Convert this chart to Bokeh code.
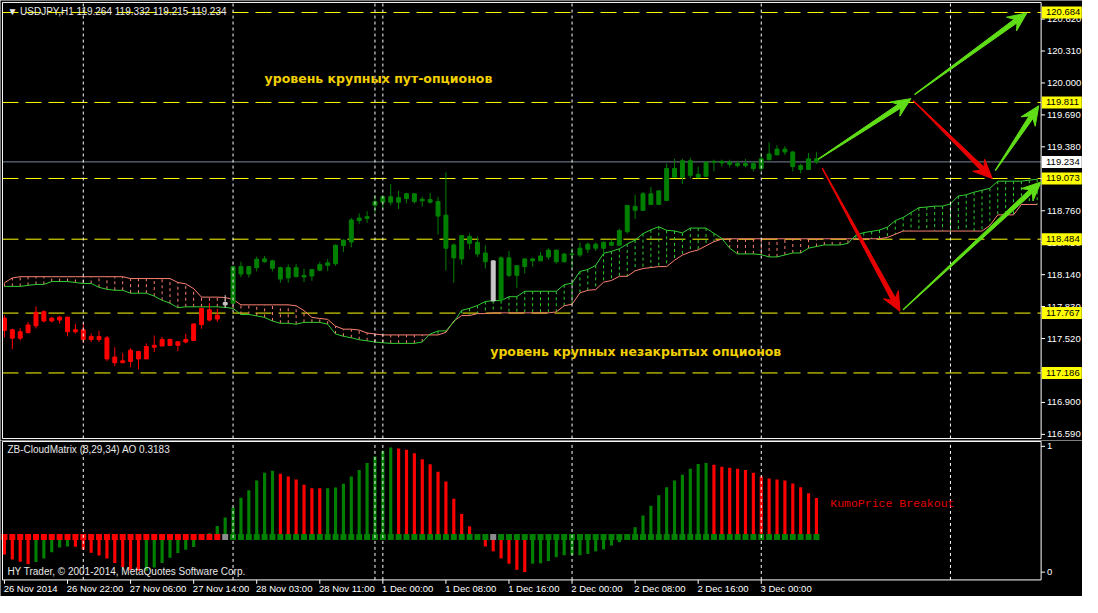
import math
from bokeh.plotting import figure
from bokeh.layouts import column
from bokeh.models import Range1d, ColumnDataSource
from bokeh.core.properties import value
from bokeh.embed import file_html
from bokeh.resources import INLINE

# ---------------- data ----------------
bar_open = [117.718, 117.605, 117.524, 117.577, 117.643, 117.781, 117.690, 117.728, 117.728, 117.586,
            117.605, 117.511, 117.539, 117.527, 117.341, 117.285, 117.297, 117.395, 117.322, 117.436,
            117.448, 117.511, 117.454, 117.486, 117.501, 117.655, 117.800, 117.709, 117.847, 117.863,
            118.218, 118.146, 118.208, 118.293, 118.274, 118.208, 118.108, 118.208, 118.117, 118.127,
            118.183, 118.230, 118.246, 118.422, 118.457, 118.664, 118.686, 118.812, 118.843, 118.896,
            118.843, 118.878, 118.925, 118.856, 118.868, 118.849, 118.717, 118.428, 118.293, 118.510,
            118.453, 118.350, 118.274, 117.894, 118.303, 118.133, 118.218, 118.293, 118.274, 118.312,
            118.378, 118.265, 118.340, 118.331, 118.387, 118.435, 118.397, 118.453, 118.425, 118.557,
            118.802, 118.764, 118.925, 118.821, 118.859, 119.170, 119.085, 119.245, 119.113, 119.095,
            119.230, 119.239, 119.230, 119.217, 119.198, 119.217, 119.170, 119.255, 119.302, 119.358,
            119.330, 119.198, 119.161, 119.264]
bar_high = [117.747, 117.615, 117.621, 117.681, 117.831, 117.794, 117.728, 117.740, 117.728, 117.662,
            117.671, 117.571, 117.596, 117.545, 117.436, 117.379, 117.426, 117.395, 117.473, 117.549,
            117.536, 117.520, 117.489, 117.567, 117.662, 117.813, 117.866, 117.809, 117.941, 118.218,
            118.265, 118.218, 118.315, 118.321, 118.284, 118.218, 118.240, 118.243, 118.199, 118.190,
            118.265, 118.293, 118.435, 118.482, 118.689, 118.733, 118.755, 118.915, 118.896, 119.019,
            118.953, 118.934, 118.925, 118.896, 118.934, 118.896, 119.132, 118.444, 118.519, 118.538,
            118.510, 118.425, 118.274, 118.318, 118.369, 118.227, 118.293, 118.303, 118.359, 118.397,
            118.378, 118.350, 118.397, 118.453, 118.453, 118.453, 118.463, 118.482, 118.585, 118.812,
            118.915, 118.943, 118.991, 118.953, 119.217, 119.264, 119.264, 119.274, 119.189, 119.242,
            119.255, 119.255, 119.255, 119.245, 119.261, 119.236, 119.321, 119.424, 119.396, 119.387,
            119.340, 119.217, 119.321, 119.332]
bar_low = [117.533, 117.417, 117.501, 117.571, 117.618, 117.677, 117.677, 117.665, 117.542, 117.567,
           117.479, 117.486, 117.486, 117.300, 117.253, 117.285, 117.241, 117.222, 117.322, 117.388,
           117.448, 117.448, 117.398, 117.473, 117.501, 117.615, 117.684, 117.681, 117.816, 117.863,
           118.114, 118.114, 118.171, 118.255, 118.171, 118.061, 118.061, 118.114, 118.067, 118.080,
           118.171, 118.174, 118.227, 118.359, 118.406, 118.632, 118.642, 118.739, 118.783, 118.812,
           118.777, 118.830, 118.830, 118.802, 118.830, 118.529, 118.180, 118.061, 118.237, 118.387,
           118.312, 118.199, 117.885, 117.879, 118.114, 118.010, 118.152, 118.218, 118.274, 118.284,
           118.246, 118.255, 118.199, 118.312, 118.350, 118.369, 118.340, 118.425, 118.425, 118.538,
           118.680, 118.764, 118.821, 118.821, 118.859, 119.085, 119.019, 119.073, 119.073, 119.085,
           119.142, 119.189, 119.180, 119.180, 119.180, 119.142, 119.142, 119.255, 119.302, 119.302,
           119.142, 119.123, 119.161, 119.215]
bar_close = [117.599, 117.524, 117.586, 117.652, 117.775, 117.690, 117.718, 117.699, 117.586, 117.605,
             117.511, 117.539, 117.511, 117.322, 117.285, 117.304, 117.407, 117.322, 117.442, 117.454,
             117.511, 117.454, 117.489, 117.511, 117.662, 117.813, 117.699, 117.747, 117.869, 118.218,
             118.146, 118.218, 118.290, 118.265, 118.202, 118.098, 118.208, 118.120, 118.133, 118.190,
             118.237, 118.255, 118.425, 118.475, 118.670, 118.689, 118.702, 118.849, 118.896, 118.843,
             118.887, 118.925, 118.849, 118.871, 118.843, 118.708, 118.397, 118.303, 118.519, 118.444,
             118.340, 118.265, 117.885, 118.303, 118.133, 118.227, 118.293, 118.274, 118.321, 118.378,
             118.265, 118.340, 118.334, 118.397, 118.435, 118.397, 118.453, 118.425, 118.567, 118.812,
             118.764, 118.925, 118.821, 118.953, 119.170, 119.085, 119.245, 119.104, 119.085, 119.230,
             119.239, 119.223, 119.211, 119.198, 119.217, 119.170, 119.264, 119.311, 119.358, 119.330,
             119.189, 119.161, 119.264, 119.234]
# trend state per bar: R = below cloud, G = above cloud, X = breakout bar
bar_state = ("RRRRRRRRRRRRRRRRRRRRRRRRRRRR" + "X" +
             "GGGGGGGGGGGGGGGGGGGGGGGGGGGGGGGGG" + "X" +
             "GGGGGGGGGGGGGGGGGGGGGGGGGGGGGGGGGGGGGGGGG")

span_a = [118.026, 118.026, 118.026, 118.036, 118.045, 118.045, 118.073, 118.073, 118.073, 118.064,
          118.054, 118.054, 118.017, 117.998, 117.988, 117.988, 117.960, 117.960, 117.960, 117.932,
          117.891, 117.863, 117.819, 117.828, 117.828, 117.828, 117.828, 117.828, 117.822, 117.813,
          117.753, 117.753, 117.740, 117.725, 117.690, 117.668, 117.668, 117.659, 117.677, 117.677,
          117.677, 117.659, 117.564, 117.542, 117.527, 117.508, 117.498, 117.486, 117.479, 117.473,
          117.473, 117.473, 117.473, 117.486, 117.564, 117.593, 117.595, 117.680, 117.794, 117.813,
          117.841, 117.879, 117.888, 117.888, 117.926, 117.926, 117.979, 117.979, 117.979, 117.979,
          117.979, 118.042, 118.058, 118.171, 118.190, 118.230, 118.347, 118.366, 118.391, 118.438,
          118.475, 118.538, 118.575, 118.605, 118.570, 118.564, 118.545, 118.592, 118.592, 118.592,
          118.540, 118.491, 118.397, 118.341, 118.341, 118.341, 118.334, 118.312, 118.312, 118.331,
          118.350, 118.350, 118.397, 118.413, 118.428, 118.428, 118.428, 118.444, 118.523, 118.548,
          118.560, 118.573, 118.601, 118.664, 118.695, 118.743, 118.790, 118.796, 118.805, 118.805,
          118.827, 118.903, 118.915, 118.940, 118.959, 118.978, 119.047, 119.047, 119.047, 119.047,
          119.057, 119.066]
span_b = [118.061, 118.108, 118.120, 118.120, 118.120, 118.120, 118.120, 118.120, 118.120, 118.120,
          118.120, 118.120, 118.120, 118.120, 118.120, 118.120, 118.102, 118.102, 118.102, 118.102,
          118.102, 118.102, 118.064, 118.051, 118.004, 117.922, 117.922, 117.922, 117.918, 117.900,
          117.847, 117.847, 117.847, 117.847, 117.847, 117.847, 117.847, 117.838, 117.791, 117.725,
          117.715, 117.706, 117.640, 117.611, 117.611, 117.602, 117.574, 117.564, 117.555, 117.555,
          117.555, 117.555, 117.555, 117.555, 117.555, 117.555, 117.580, 117.690, 117.743, 117.743,
          117.762, 117.762, 117.769, 117.769, 117.769, 117.769, 117.769, 117.769, 117.769, 117.769,
          117.778, 117.838, 117.853, 117.963, 117.988, 117.995, 118.067, 118.083, 118.124, 118.124,
          118.177, 118.199, 118.209, 118.218, 118.218, 118.280, 118.330, 118.360, 118.380, 118.420,
          118.460, 118.485, 118.488, 118.488, 118.488, 118.488, 118.488, 118.488, 118.488, 118.488,
          118.488, 118.488, 118.488, 118.488, 118.488, 118.488, 118.488, 118.488, 118.488, 118.488,
          118.488, 118.488, 118.501, 118.532, 118.563, 118.563, 118.563, 118.563, 118.563, 118.563,
          118.563, 118.563, 118.563, 118.563, 118.563, 118.617, 118.720, 118.720, 118.720, 118.821,
          118.821, 118.821]

ao_base = 0.279
ao_values = [0.140, 0.101, 0.083, 0.062, 0.080, 0.109, 0.158, 0.196, 0.204, 0.202,
             0.178, 0.155, 0.132, 0.109, 0.072, 0.041, 0.016, 0.010, 0.010, 0.036,
             0.072, 0.114, 0.152, 0.178, 0.199, 0.256, 0.310, 0.367, 0.434, 0.514,
             0.592, 0.651, 0.729, 0.791, 0.806, 0.783, 0.760, 0.736, 0.695, 0.667,
             0.667, 0.667, 0.672, 0.703, 0.760, 0.811, 0.868, 0.920, 0.966, 0.990,
             0.982, 0.972, 0.946, 0.897, 0.858, 0.798, 0.721, 0.584, 0.463, 0.364,
             0.295, 0.204, 0.165, 0.109, 0.067, 0.018, 0.000, 0.067, 0.070, 0.088,
             0.119, 0.134, 0.134, 0.134, 0.145, 0.165, 0.181, 0.212, 0.238, 0.262,
             0.357, 0.450, 0.527, 0.612, 0.674, 0.729, 0.775, 0.822, 0.860, 0.868,
             0.853, 0.837, 0.829, 0.822, 0.811, 0.791, 0.760, 0.744, 0.736, 0.729,
             0.705, 0.674, 0.628, 0.589]
ao_state = ("RRRR" + "GGGGG" + "RRRRRRRRR" + "GGGGGGGGGGGGGGGGG" + "RRRRRR" + "GGGGGGGGG" +
            "RRRRRRRRRRRRRRRRR" + "GGGGGGGGGGGGGGGGGGGGGGG" + "RRRRRRRRRRRRRR")

level_prices = [120.684, 119.811, 119.073, 118.484, 117.767, 117.186]
last_price = 119.234
price_ticks = [116.590, 116.900, 117.210, 117.520, 117.830, 118.140, 118.450,
               118.760, 119.070, 119.380, 119.690, 120.000, 120.310, 120.620]
osc_ticks = [0, 1]
time_tick_bars = [0, 8, 16, 24, 32, 40, 48, 56, 64, 72, 80, 88, 96]
time_tick_labels = ["26 Nov 2014", "26 Nov 22:00", "27 Nov 06:00", "27 Nov 14:00", "28 Nov 03:00",
                    "28 Nov 11:00", "1 Dec 00:00", "1 Dec 08:00", "1 Dec 16:00", "2 Dec 00:00",
                    "2 Dec 08:00", "2 Dec 16:00", "3 Dec 00:00"]
separator_bars = [10, 29, 47, 48, 72, 96, 120]

arrow_x0 = [103.25, 115.46, 115.30, 125.70, 103.75, 114.00]
arrow_y0 = [119.261, 119.889, 119.827, 119.151, 119.172, 117.800]
arrow_x1 = [115.00, 129.70, 125.30, 131.20, 113.60, 131.50]
arrow_y1 = [119.848, 120.680, 119.073, 119.779, 117.784, 119.040]
arrow_kind = ["up", "up", "down", "up", "down", "up"]

# ---------------- geometry (MT4 window: 8 px per bar, price scale) ----------------
W_PX, H1_PX, H2_PX = 1082, 440, 156

def col2x(c):          # window column -> bar coordinate
    return (c - 4) / 8.0

def row2p(r):          # window row -> price (main panel)
    return 116.59 + (446.7 - r) / 106.1

def row2o(r):          # window row -> oscillator value (lower panel)
    return (588.0 - r) / 129.0

XMIN, XMAX = col2x(0), col2x(1098)
YMAX, YMIN = row2p(0), row2p(453)
OMAX, OMIN = row2o(453), row2o(613)
X_EDGE = col2x(1056)           # right border of the chart area
X_LEFT = col2x(2)
sx = W_PX / (XMAX - XMIN)
sy = H1_PX / (YMAX - YMIN)

RED, GREEN, GRAY_C, GRAY_S = "#FF0000", "#008000", "#C8C8C8", "#8C8C8C"
A_COL, B_COL = "#32CD32", "#FA8072"
ARROW_COL = {"up": "#5FDD17", "down": "#E80000"}
FONT = value("Liberation Sans")
FS = "9.5px"
FS_T = "10px"

xr = Range1d(XMIN, XMAX)

def make_fig(h, yr):
    f = figure(width=W_PX, height=h, x_range=xr, y_range=yr,
               output_backend="svg", toolbar_location=None,
               x_axis_location=None, y_axis_location=None,
               background_fill_color="black", border_fill_color="black",
               outline_line_color=None, min_border=0)
    f.grid.visible = False
    return f

def frame_and_axis(f, top, bot, ticks, labels):
    # dotted period separators
    f.segment(x0=separator_bars, y0=[bot] * len(separator_bars),
              x1=separator_bars, y1=[top] * len(separator_bars),
              line_color="white", line_dash="3 3", line_width=1)
    # border
    f.line([X_LEFT, X_EDGE, X_EDGE, X_LEFT, X_LEFT], [top, top, bot, bot, top],
           line_color="white", line_width=1)
    # right scale
    f.segment(x0=[X_EDGE] * len(ticks), y0=ticks, x1=[col2x(1060)] * len(ticks), y1=ticks,
              line_color="white", line_width=1)
    f.text(x=[col2x(1062)] * len(ticks), y=ticks, text=labels, text_color="white",
           text_font=FONT, text_font_size=FS, text_align="left", text_baseline="middle")

# ---------------- main panel ----------------
p = make_fig(H1_PX, Range1d(YMIN, YMAX))
P_TOP, P_BOT = row2p(2), row2p(451)

nl = len(level_prices)
p.segment(x0=[X_LEFT] * nl, y0=level_prices, x1=[X_EDGE] * nl, y1=level_prices,
          line_color="#FFFF00", line_dash="16 7", line_width=1)
p.segment(x0=[X_LEFT], y0=[last_price], x1=[X_EDGE], y1=[last_price],
          line_color="#778899", line_width=1)

# cloud
cx = list(range(len(span_a)))
hatch = ColumnDataSource(dict(x=cx, a=span_a, b=span_b,
                              c=[B_COL if b > a else A_COL for a, b in zip(span_a, span_b)]))
p.segment(x0="x", y0="a", x1="x", y1="b", source=hatch, line_color="c",
          line_dash="3 3", line_width=1)
p.line(cx, span_b, line_color=B_COL, line_width=1)
p.line(cx, span_a, line_color=A_COL, line_width=1)

# candles
n = len(bar_open)
cmap_c = {"R": RED, "G": GREEN, "X": GRAY_C}
cs = ColumnDataSource(dict(
    x=list(range(n)), o=bar_open, h=bar_high, l=bar_low, c=bar_close,
    top=[max(o, c) for o, c in zip(bar_open, bar_close)],
    bot=[min(o, c) for o, c in zip(bar_open, bar_close)],
    col=[cmap_c[s] for s in bar_state]))
p.segment(x0="x", y0="l", x1="x", y1="h", source=cs, line_color="col", line_width=1)
p.vbar(x="x", top="top", bottom="bot", width=0.5, source=cs, fill_color="col",
       line_color="col", line_width=1)

frame_and_axis(p, P_TOP, P_BOT, price_ticks, ["%.3f" % t for t in price_ticks])

# arrows (tapered shaft, notched head)
def arrow_poly(x0, y0, x1, y1):
    X0, Y0 = x0 * sx, (y0 - YMIN) * sy
    X1, Y1 = x1 * sx, (y1 - YMIN) * sy
    dx, dy = X1 - X0, Y1 - Y0
    L = math.hypot(dx, dy)
    ux, uy = dx / L, dy / L
    nx, ny = -uy, ux
    head, half_head, notch, neck_w, tail_w = 19.0, 8.5, 5.0, 2.3, 0.3
    bx, by = X1 - ux * head, Y1 - uy * head
    kx, ky = X1 - ux * (head - notch), Y1 - uy * (head - notch)
    pts = [(X0 + nx * tail_w, Y0 + ny * tail_w),
           (kx + nx * neck_w, ky + ny * neck_w),
           (bx + nx * half_head, by + ny * half_head),
           (X1, Y1),
           (bx - nx * half_head, by - ny * half_head),
           (kx - nx * neck_w, ky - ny * neck_w),
           (X0 - nx * tail_w, Y0 - ny * tail_w)]
    return [q[0] / sx for q in pts], [q[1] / sy + YMIN for q in pts]

axs, ays, acs = [], [], []
for x0, y0, x1, y1, k in zip(arrow_x0, arrow_y0, arrow_x1, arrow_y1, arrow_kind):
    xs, ys = arrow_poly(x0, y0, x1, y1)
    axs.append(xs); ays.append(ys); acs.append(ARROW_COL[k])
p.patches(axs, ays, fill_color=acs, line_color=acs, line_width=1)

# price tags on the scale
p.rect(x=[col2x(1077)] * nl, y=level_prices, width=40, height=12,
       width_units="screen", height_units="screen", fill_color="#FFFF00", line_color=None)
p.text(x=[col2x(1061)] * nl, y=level_prices, text=["%.3f" % v for v in level_prices],
       text_color="black", text_font=FONT, text_font_size=FS, text_align="left",
       text_baseline="middle")
p.rect(x=[col2x(1077)], y=[last_price], width=40, height=12,
       width_units="screen", height_units="screen", fill_color="white", line_color=None)
p.text(x=[col2x(1061)], y=[last_price], text=["%.3f" % last_price],
       text_color="black", text_font=FONT, text_font_size=FS, text_align="left",
       text_baseline="middle")

# texts
p.text(x=[col2x(7)], y=[row2p(11)],
       text=["\u25BC  USDJPY,H1  119.264 119.332 119.215 119.234"],
       text_color="#E8E8E8", text_font=FONT, text_font_size=FS_T,
       text_align="left", text_baseline="middle")
p.text(x=[col2x(268), col2x(497)], y=[row2p(80.5), row2p(361.5)],
       text=["уровень крупных пут-опционов", "уровень крупных незакрытых опционов"],
       text_color="#F2D000", text_font=value("DejaVu Sans"), text_font_style="bold",
       text_font_size="12.5px", text_align="left", text_baseline="middle")

# ---------------- oscillator panel ----------------
q = make_fig(H2_PX, Range1d(OMIN, OMAX))
Q_TOP, Q_BOT = row2o(454), row2o(596)

cmap_a = {"R": RED, "G": GREEN}
cmap_s = {"R": RED, "G": GREEN, "X": GRAY_S}
osc = ColumnDataSource(dict(x=list(range(n)), v=ao_values, base=[ao_base] * n,
                            col=[cmap_a[s] for s in ao_state],
                            scol=[cmap_s[s] for s in bar_state]))
q.vbar(x="x", bottom="base", top="v", width=0.4, source=osc, fill_color="col", line_color=None)
q.scatter(x="x", y="base", marker="square", size=6, source=osc, fill_color="scol",
          line_color=None)

frame_and_axis(q, Q_TOP, Q_BOT, osc_ticks, [str(t) for t in osc_ticks])

# time scale
nt = len(time_tick_bars)
q.segment(x0=time_tick_bars, y0=[Q_BOT] * nt, x1=time_tick_bars, y1=[row2o(600)] * nt,
          line_color="white", line_width=1)
q.text(x=[b - 0.1 for b in time_tick_bars], y=[row2o(605)] * nt, text=time_tick_labels,
       text_color="white", text_font=FONT, text_font_size=FS, text_align="left",
       text_baseline="middle")

q.text(x=[col2x(7), col2x(7)], y=[row2o(462), row2o(587)],
       text=["ZB-CloudMatrix (8,29,34)   AO 0.3183",
             "HY Trader, \u00A9 2001-2014, MetaQuotes Software Corp."],
       text_color="#E8E8E8", text_font=FONT, text_font_size=FS_T,
       text_align="left", text_baseline="middle")
q.text(x=[col2x(842)], y=[row2o(518)], text=["KumoPrice Breakout"], text_color="#E00000",
       text_font=value("Liberation Mono"), text_font_size="11.5px",
       text_align="left", text_baseline="middle")

layout = column(p, q, spacing=0)
open("out.html", "w").write(file_html(layout, INLINE))
